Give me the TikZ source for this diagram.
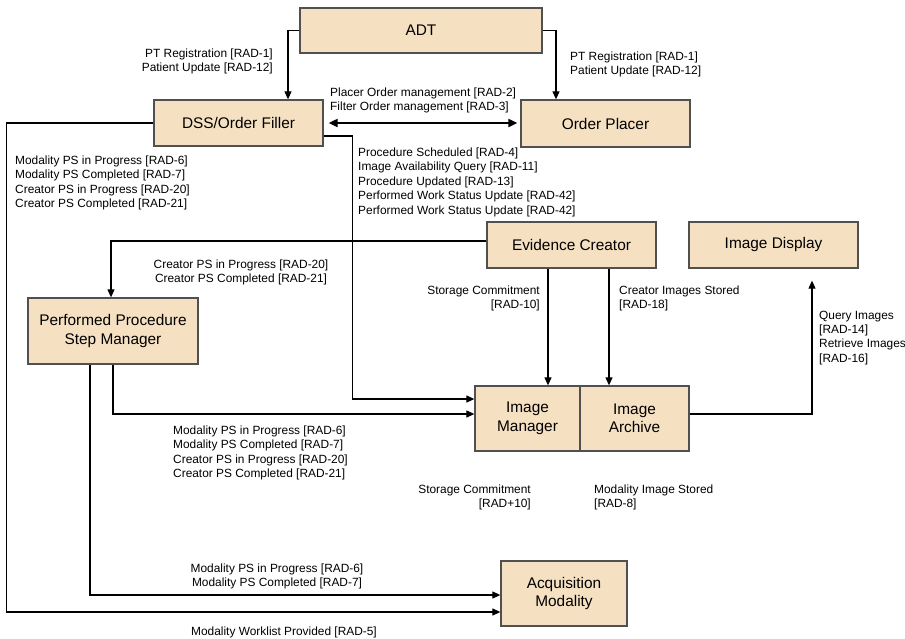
\documentclass[tikz,border=0pt]{standalone}
\usepackage{fontspec}
\setmainfont{Liberation Sans}
\usetikzlibrary{arrows.meta}
\definecolor{boxfill}{HTML}{F5E0C2}
\definecolor{boxline}{HTML}{505050}
\begin{document}
\begin{tikzpicture}[x=1pt,y=-1pt,
  actor/.style={draw=boxline,line width=1.3pt,fill=boxfill,inner sep=0pt,
    align=center,font=\fontsize{15.4}{18.5}\selectfont},
  link/.style={line width=1.1pt,-{Triangle[length=8pt,width=7pt]}},
  lbl/.style={inner sep=0pt,font=\fontsize{11.9}{14.4}\selectfont}]
\useasboundingbox (0,0) rectangle (905,638);

% actors
\node[actor,minimum width=242pt,minimum height=45pt] (ADT) at (421,30.5) {ADT};
\node[actor,minimum width=169pt,minimum height=46pt] (DSS) at (238.5,123) {DSS/Order Filler};
\node[actor,minimum width=169pt,minimum height=47pt] (OP) at (605.5,123.5) {Order Placer};
\node[actor,minimum width=169pt,minimum height=46pt] (EC) at (571.5,245) {Evidence Creator};
\node[actor,minimum width=169pt,minimum height=46pt] (ID) at (773.5,245) {Image Display};
\node[actor,minimum width=170pt,minimum height=66pt] (PPS) at (113,331) {Performed Procedure\\Step Manager};
\node[actor,minimum width=105pt,minimum height=65pt] (IM) at (527.5,418.5) {Image\\Manager};
\node[actor,minimum width=109pt,minimum height=65pt] (IA) at (634.5,418.5) {Image\\Archive};
\node[actor,minimum width=126pt,minimum height=65pt] (AM) at (564,593.5) {Acquisition\\Modality};

% transactions
\draw[link] (ADT.west) -| ([xshift=49.5pt]DSS.north);
\draw[link] (ADT.east) -| ([xshift=-49.5pt]OP.north);
\draw[line width=2pt,{Triangle[length=9pt,width=8pt]}-{Triangle[length=9pt,width=8pt]},
  shorten <=5pt,shorten >=3pt] (DSS.east) -- (DSS.east -| OP.west);
\draw[link] (DSS.west) -- ++(-147pt,0) |- ([yshift=-18.5pt]AM.west);
\draw[link] ([yshift=-13pt]DSS.east) -- ++(29pt,0) |- ([yshift=19.5pt]IM.west);
\draw[link] ([yshift=4pt]EC.west) -| ([xshift=-2pt]PPS.north);
\draw[link] (PPS.south) |- ([yshift=4.5pt]IM.west);
\draw[link] ([xshift=-23pt]PPS.south) |- ([yshift=-1.5pt]AM.west);
\draw[link] ([xshift=-23.5pt]EC.south) -- ([xshift=-23.5pt]EC.south |- IM.north);
\draw[link] ([xshift=37.5pt]EC.south) -- ([xshift=37.5pt]EC.south |- IA.north);
\draw[link] ([yshift=4.5pt]IA.east) -| ([xshift=38.5pt,yshift=-12pt]ID.south);

% transaction labels (anchored on the baseline of their last line)
\node[lbl,anchor=base east,align=right] (t1) at (273,71.7) {PT Registration [RAD-1]\\Patient Update [RAD-12]};
\node[lbl,anchor=base west,align=left] (t2) at (570,74.7) {PT Registration [RAD-1]\\Patient Update [RAD-12]};
\node[lbl,anchor=base west,align=left] (t3) at (330,110.7) {Placer Order management [RAD-2]\\Filter Order management [RAD-3]};
\node[lbl,anchor=base west,align=left] (t4) at (15,207.5) {Modality PS in Progress [RAD-6]\\Modality PS Completed [RAD-7]\\Creator PS in Progress [RAD-20]\\Creator PS Completed [RAD-21]};
\node[lbl,anchor=base west,align=left] (t5) at (358,214) {Procedure Scheduled [RAD-4]\\Image Availability Query [RAD-11]\\Procedure Updated [RAD-13]\\Performed Work Status Update [RAD-42]\\Performed Work Status Update [RAD-42]};
\node[lbl,anchor=base,align=center] (t6) at (241,282.7) {Creator PS in Progress [RAD-20]\\Creator PS Completed [RAD-21]};
\node[lbl,anchor=base east,align=right] (t7) at (540,308.7) {Storage Commitment\\{[RAD-10]}};
\node[lbl,anchor=base west,align=left] (t8) at (619,308.7) {Creator Images Stored\\{[RAD-18]}};
\node[lbl,anchor=base west,align=left] (t9) at (819,362.3) {Query Images\\{[RAD-14]}\\Retrieve Images\\{[RAD-16]}};
\node[lbl,anchor=base west,align=left] (t10) at (173,477.5) {Modality PS in Progress [RAD-6]\\Modality PS Completed [RAD-7]\\Creator PS in Progress [RAD-20]\\Creator PS Completed [RAD-21]};
\node[lbl,anchor=base east,align=right] (t11) at (531,507.7) {Storage Commitment\\{[RAD+10]}};
\node[lbl,anchor=base west,align=left] (t12) at (594,507.7) {Modality Image Stored\\{[RAD-8]}};
\node[lbl,anchor=base,align=center] (t13) at (277,586.7) {Modality PS in Progress [RAD-6]\\Modality PS Completed [RAD-7]};
\node[lbl,anchor=base west,align=left] (t14) at (191,635.3) {Modality Worklist Provided [RAD-5]};
\end{tikzpicture}
\end{document}
